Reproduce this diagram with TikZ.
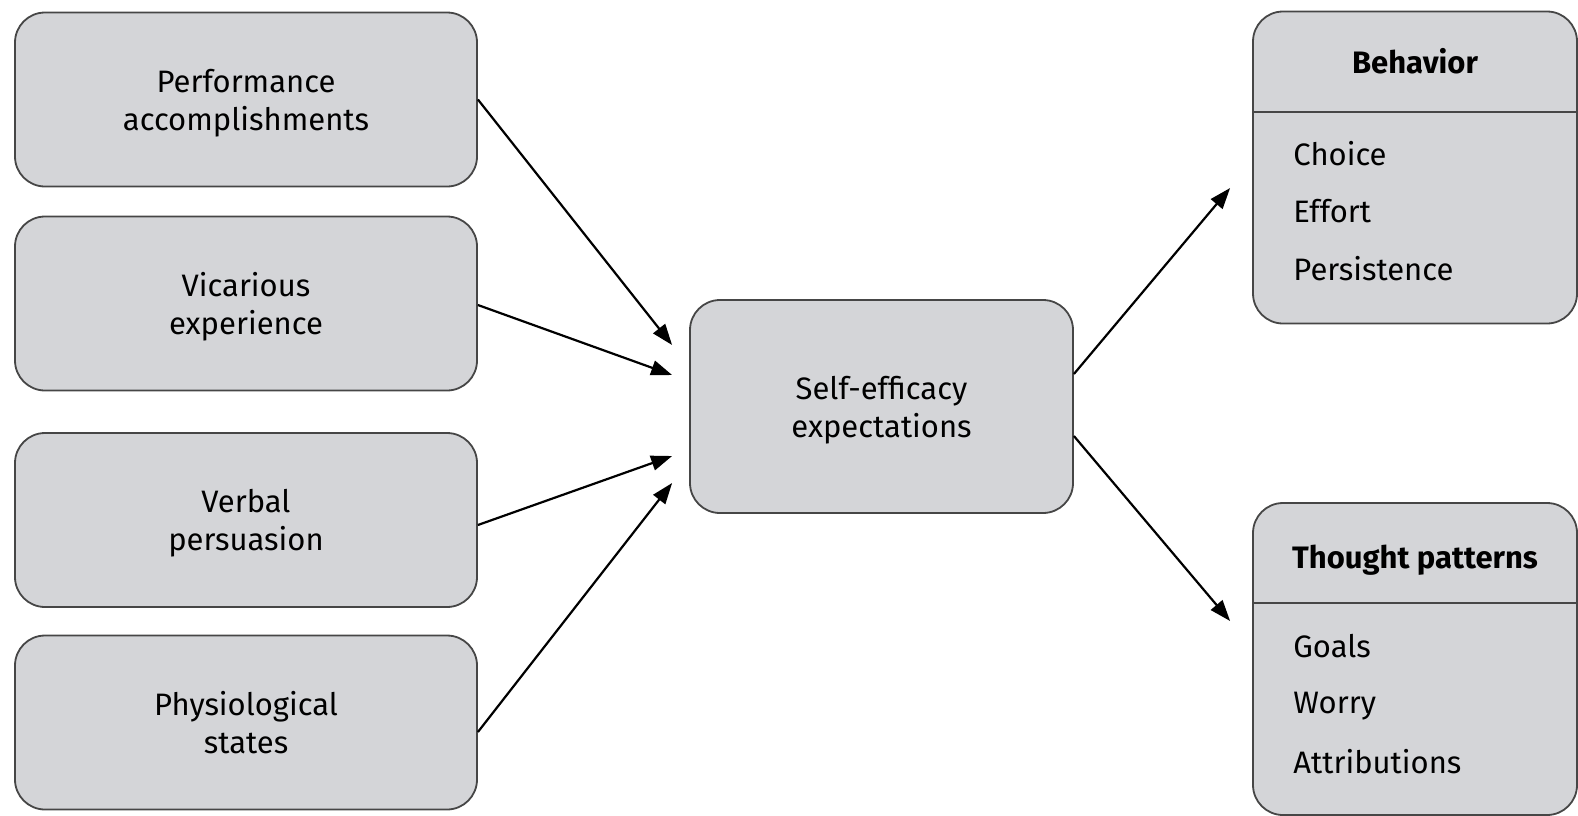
\documentclass[tikz,border=0pt]{standalone}
\usepackage{fontspec}
\setmainfont{Fira Sans}
\usepackage{tikz}
\usetikzlibrary{arrows.meta,positioning,calc}

\definecolor{boxgray}{RGB}{212,213,216}
\definecolor{edgegray}{RGB}{70,70,70}

\begin{document}
\begin{tikzpicture}[x=0.5pt,y=-0.5pt,
  every node/.style={font=\fontsize{15.5}{19}\selectfont},
  source/.style={draw=edgegray,line width=0.9pt,fill=boxgray,rounded corners=15pt,
    minimum width=231pt,minimum height=87pt,align=center,inner sep=0pt,text depth=0pt},
  center/.style={source,minimum width=191.5pt,minimum height=106.5pt},
  outcome/.style={draw=edgegray,line width=0.9pt,fill=boxgray,rounded corners=15pt,
    minimum width=162pt,minimum height=156pt,inner sep=0pt},
  item/.style={anchor=base west,inner sep=0pt},
  head/.style={anchor=base,inner sep=0pt,font=\fontsize{15.5}{19}\selectfont\bfseries},
  link/.style={-{Triangle[length=10.5pt,width=7.5pt]},line width=1.1pt}]
\useasboundingbox (0,0) rectangle (1578,815);

% sources
\node[source] (perf) at (246,99.5) {Performance\\accomplishments};
\node[source] (vic) at (246,303.5) {Vicarious\\experience};
\node[source] (verb) at (246,520) {Verbal\\persuasion};
\node[source] (phys) at (246,722.5) {Physiological\\states};

\node[center] (self) at (881.5,406.5) {Self-efficacy\\expectations};

% outcomes
\node[outcome] (behav) at (1415,167.5) {};
\draw[edgegray,line width=0.9pt] ($(behav.north west)+(0,101)$) -- ($(behav.north east)+(0,101)$);
\node[head] (behavhead) at (1415,73) {Behavior};
\node[item] (choice) at (1293,165) {Choice};
\node[item] (effort) at (1293,222) {Effort};
\node[item] (persist) at (1293,280) {Persistence};

\node[outcome] (thought) at (1415,659) {};
\draw[edgegray,line width=0.9pt] ($(thought.north west)+(0,101)$) -- ($(thought.north east)+(0,101)$);
\node[head] (thoughthead) at (1415,568) {Thought patterns};
\node[item] (goals) at (1293,657) {Goals};
\node[item] (worry) at (1293,713) {Worry};
\node[item] (attrib) at (1293,773) {Attributions};

\draw[link] (perf.east) -- ($(self.west)+(-17,-61.5)$);
\draw[link] ($(vic.east)+(0,1.5)$) -- ($(self.west)+(-17,-31.5)$);
\draw[link] ($(verb.east)+(0,5)$) -- ($(self.west)+(-17,49.5)$);
\draw[link] ($(phys.east)+(0,9.5)$) -- ($(self.west)+(-17,76.5)$);

\draw[link] ($(self.east)+(0,-32.5)$) -- ($(behav.west)+(-22,20.5)$);
\draw[link] ($(self.east)+(0,29.5)$) -- ($(thought.west)+(-22,-38)$);
\end{tikzpicture}
\end{document}
